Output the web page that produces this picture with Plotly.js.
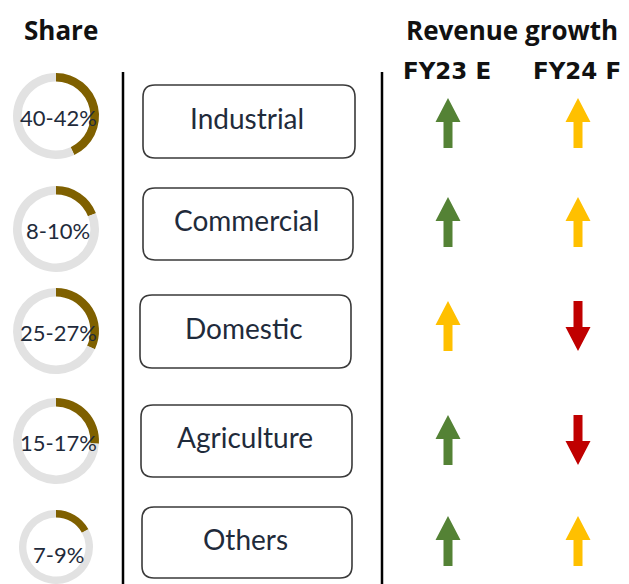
<!DOCTYPE html>
<html>
<head>
<meta charset="utf-8">
<script src="https://cdn.plot.ly/plotly-3.0.1.min.js"></script>
<style>html,body{margin:0;padding:0;background:#fff;}#chart{width:629px;height:584px;}</style>
</head>
<body>
<div id="chart"></div>
<script>
// ---- data ----
const segments = ['Industrial', 'Commercial', 'Domestic', 'Agriculture', 'Others'];
const shareLabels = ['40-42%', '8-10%', '25-27%', '15-17%', '7-9%'];
const shareArc = [43, 19, 32, 26, 17];           // filled part of each ring, as drawn (%)
const growthColumns = ['FY23 E', 'FY24 F'];
const fy23Growth = ['strong', 'strong', 'moderate', 'strong', 'strong'];
const fy24Growth = ['moderate', 'moderate', 'decline', 'decline', 'moderate'];

// ---- layout (pixels) ----
const W = 629, H = 584;
const donutX = 56, donutR = 43;
const donutY = [116, 229, 331, 441, 553];
const boxes = [[143, 355, 85, 158], [143, 353, 188, 260], [140, 351, 295, 368], [141, 352, 405, 477], [142, 352, 507, 578]];
const arrowY = [123, 222, 326, 440, 541];
const colX = [448, 578];

const growthStyle = {
  strong:   {color: '#548235', dir: 1},
  moderate: {color: '#FFC000', dir: 1},
  decline:  {color: '#C00000', dir: -1}
};
const gold = '#7F6000', ringGray = '#E2E2E2', txt = '#1F2B3B';

const traces = [];
const annotations = [];
const shapes = [];

// donuts
shareArc.forEach((v, i) => {
  const cy = donutY[i];
  traces.push({
    type: 'pie', values: [v, 100 - v], sort: false, direction: 'clockwise', rotation: 0,
    hole: 0.8, textinfo: 'none', hoverinfo: 'skip', showlegend: false,
    marker: {colors: [gold, ringGray], line: {width: 0}},
    domain: {x: [(donutX - donutR) / W, (donutX + donutR) / W], y: [1 - (cy + donutR) / H, 1 - (cy - donutR) / H]}
  });
  annotations.push({x: donutX + 2, y: cy + 1, xref: 'x', yref: 'y', text: shareLabels[i], showarrow: false,
    font: {family: 'Lato', size: 22, color: txt}, xanchor: 'center', yanchor: 'middle'});
});

// boxes + labels
function roundRect(x0, x1, y0, y1, r) {
  return `M${x0 + r},${y0} L${x1 - r},${y0} Q${x1},${y0} ${x1},${y0 + r} L${x1},${y1 - r} Q${x1},${y1} ${x1 - r},${y1} ` +
         `L${x0 + r},${y1} Q${x0},${y1} ${x0},${y1 - r} L${x0},${y0 + r} Q${x0},${y0} ${x0 + r},${y0} Z`;
}
segments.forEach((s, i) => {
  const b = boxes[i];
  shapes.push({type: 'path', xref: 'x', yref: 'y', path: roundRect(b[0], b[1], b[2], b[3], 12),
    line: {color: '#3A3A3A', width: 1.6}, fillcolor: 'rgba(0,0,0,0)'});
  annotations.push({x: (b[0] + b[1]) / 2 - 2, y: (b[2] + b[3]) / 2 - 4, xref: 'x', yref: 'y', text: s, showarrow: false,
    font: {family: 'Lato', size: 28, color: txt}, xanchor: 'center', yanchor: 'middle'});
});

// dividers
[123, 382].forEach(x => shapes.push({type: 'line', xref: 'x', yref: 'y', x0: x, x1: x, y0: 72, y1: 584,
  line: {color: '#000', width: 2.5}}));

// arrows
function arrowPath(cx, cy, dir) {
  const half = 25, headH = 24, headW = 12.5, stemW = 4.5;
  const tip = cy - dir * half, base = cy + dir * half, neck = tip + dir * headH;
  return `M${cx},${tip} L${cx + headW},${neck} L${cx + stemW},${neck} L${cx + stemW},${base} ` +
         `L${cx - stemW},${base} L${cx - stemW},${neck} L${cx - headW},${neck} Z`;
}
[fy23Growth, fy24Growth].forEach((col, c) => {
  col.forEach((g, i) => {
    const st = growthStyle[g];
    shapes.push({type: 'path', xref: 'x', yref: 'y', path: arrowPath(colX[c], arrowY[i], st.dir),
      line: {width: 0}, fillcolor: st.color});
  });
  annotations.push({x: colX[c] - 1, y: 71, xref: 'x', yref: 'y', text: '<b>' + growthColumns[c] + '</b>', showarrow: false,
    font: {family: 'DejaVu Sans', size: 23, color: '#111'}, xanchor: 'center', yanchor: 'middle'});
});

// headings
annotations.push({x: 61, y: 30, xref: 'x', yref: 'y', text: '<b>Share</b>', showarrow: false,
  font: {family: 'Open Sans', size: 26, color: '#111'}, xanchor: 'center', yanchor: 'middle'});
annotations.push({x: 512, y: 30, xref: 'x', yref: 'y', text: '<b>Revenue growth</b>', showarrow: false,
  font: {family: 'Open Sans', size: 26, color: '#111'}, xanchor: 'center', yanchor: 'middle'});

const layout = {
  width: W, height: H, margin: {l: 0, r: 0, t: 0, b: 0},
  paper_bgcolor: '#fff', plot_bgcolor: '#fff',
  xaxis: {range: [0, W], visible: false, fixedrange: true},
  yaxis: {range: [H, 0], visible: false, fixedrange: true},
  showlegend: false, shapes, annotations
};
Plotly.newPlot('chart', traces, layout, {staticPlot: true, displayModeBar: false});
</script>
</body>
</html>
